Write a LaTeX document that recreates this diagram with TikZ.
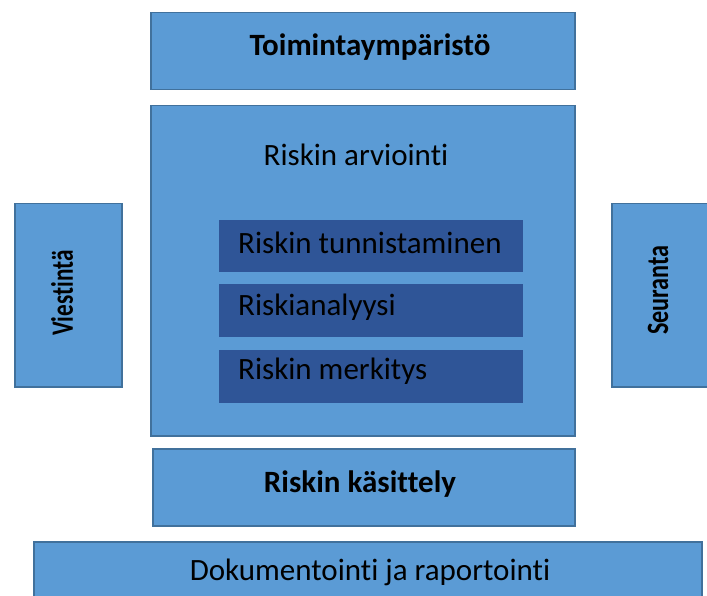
\documentclass[tikz,border=0pt]{standalone}
\usepackage{fontspec}
\setmainfont{Carlito}[Ligatures=NoCommon]
\definecolor{boxfill}{HTML}{5B9BD5}
\definecolor{boxline}{HTML}{41719C}
\definecolor{innerfill}{HTML}{2F5597}
\tikzset{
  box/.style={draw=boxline, line width=1.5pt, fill=boxfill, anchor=north west, inner sep=0pt},
  inbox/.style={draw=none, fill=innerfill, anchor=north west, inner sep=0pt},
  lbl/.style={inner sep=0pt, text=black, font=\fontsize{31}{36}\selectfont},
}
\begin{document}
\begin{tikzpicture}[x=1pt,y=-1pt]
\useasboundingbox (0,0) rectangle (707,596);
\node[box, minimum width=424pt, minimum height=77pt] (env) at (150,12) {};
\node[box, minimum width=424pt, minimum height=330pt] (assess) at (150,105) {};
\node[inbox, minimum width=304pt, minimum height=52pt] (ident) at (219,220) {};
\node[inbox, minimum width=304pt, minimum height=53pt] (anal) at (219,284) {};
\node[inbox, minimum width=304pt, minimum height=53pt] (eval) at (219,350) {};
\node[box, minimum width=107pt, minimum height=183pt] (comm) at (14,203) {};
\node[box, minimum width=110pt, minimum height=183pt] (mon) at (611,203) {};
\node[box, minimum width=422pt, minimum height=77pt] (treat) at (152,448) {};
\node[box, minimum width=668pt, minimum height=70pt] (doc) at (33,541) {};

\node[lbl, font=\fontsize{31}{36}\selectfont\bfseries] (envt) at (370,47) {Toimintaympäristö};
\node[lbl] (assesst) at (356,155) {Riskin arviointi};
\node[lbl, anchor=west] (identt) at (238,243) {Riskin tunnistaminen};
\node[lbl, anchor=west] (analt) at (238,307) {Riskianalyysi};
\node[lbl, anchor=west] (evalt) at (238,371) {Riskin merkitys};
\node[lbl, rotate=90, font=\fontsize{31}{36}\selectfont\bfseries] (commt) at (62,293) {\scalebox{0.75}[1]{Viestintä}};
\node[lbl, rotate=90, font=\fontsize{31}{36}\selectfont\bfseries] (mont) at (658,290) {\scalebox{0.78}[1]{Seuranta}};
\node[lbl, font=\fontsize{31}{36}\selectfont\bfseries] (treatt) at (360,484) {Riskin käsittely};
\node[lbl] (doct) at (370,572) {Dokumentointi ja raportointi};
\end{tikzpicture}
\end{document}
